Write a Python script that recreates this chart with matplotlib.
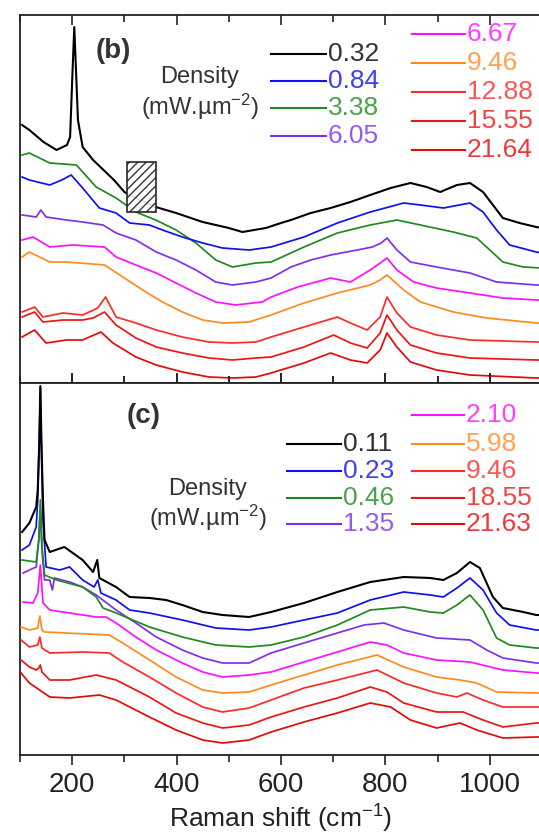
import matplotlib
matplotlib.use("Agg")
import matplotlib.pyplot as plt
from matplotlib.patches import Rectangle
from matplotlib.lines import Line2D
from matplotlib.ticker import MultipleLocator

plt.rcParams['font.family'] = ['Liberation Sans', 'DejaVu Sans']
plt.rcParams['mathtext.default'] = 'regular'

# ---------------- Panel (b) data (offset intensity, a.u.) ----------------
b_labels = ["0.32", "0.84", "3.38", "6.05", "6.67", "9.46", "12.88", "15.55", "21.64"]
b_colors = ["#000000", "#1010f0", "#1f8a1f", "#7f30ee", "#ff10ff", "#ff8a20", "#ff2a2a", "#ee1515", "#e40a0a"]

b1_x = [104,118,145,170,190,196,200,204,208,211,220,240,260,280,300,310,360,399,450,500,526,571,600,619,657,695,733,771,810,848,879,905,937,962,987,1006,1025,1057,1089,1100]
b1_y = [258,253,241,233,238,246,303,356,303,263,236,223,213,203,191,188,176,170,161,155,151,155,160,163,170,175,181,188,195,200,196,191,198,200,191,178,165,160,156,155]

b2_x = [104,118,157,180,198,220,252,284,310,348,373,411,450,488,539,581,644,708,771,835,867,911,962,987,1013,1038,1089,1100]
b2_y = [206,203,198,203,208,195,175,170,160,158,153,146,140,135,133,136,146,160,171,180,178,175,180,171,153,138,131,130]

b3_x = [104,118,157,208,246,284,322,360,399,437,475,507,552,581,644,708,771,822,867,930,975,1000,1025,1064,1100]
b3_y = [228,230,220,218,196,185,171,163,153,140,123,116,120,121,136,150,158,163,158,151,145,133,121,116,115]

b4_x = [104,131,140,150,189,220,259,284,322,361,399,437,475,507,552,581,619,657,695,746,775,792,803,822,848,898,962,1013,1089,1100]
b4_y = [168,166,173,166,163,161,158,150,143,131,123,113,101,98,101,105,116,123,128,133,136,140,145,133,121,116,110,101,98,98]

b5_x = [104,125,157,201,262,284,322,361,399,437,475,513,564,581,632,695,733,771,790,803,822,854,898,962,1025,1089,1100]
b5_y = [143,146,136,138,136,126,118,110,100,90,81,78,81,86,96,105,101,113,120,125,113,101,95,90,85,83,83]

b6_x = [104,118,157,189,262,297,335,373,411,450,488,539,581,644,708,771,790,803,835,867,930,994,1089,1100]
b6_y = [126,131,121,121,118,106,93,81,71,63,60,61,68,80,90,98,103,108,93,81,71,65,60,60]

b7_x = [104,128,144,182,220,249,264,284,322,361,411,462,507,552,581,644,708,733,765,790,803,822,848,898,962,1089,1100]
b7_y = [71,76,66,70,68,75,86,66,60,53,46,41,40,41,46,56,66,60,53,66,86,70,56,48,43,41,41]

b8_x = [104,128,144,182,220,240,262,284,322,361,411,462,507,552,581,644,701,733,765,790,803,822,848,898,962,1089,1100]
b8_y = [66,71,61,63,63,65,71,58,45,36,30,25,23,25,26,36,48,40,35,50,68,53,38,30,25,23,23]

b9_x = [104,128,150,189,220,255,278,322,361,411,462,507,552,581,644,695,733,765,790,803,822,848,898,962,1089,1100]
b9_y = [46,53,40,43,43,51,40,26,18,11,6,5,6,10,20,30,23,20,33,50,36,21,13,8,5,5]

b_x = [b1_x, b2_x, b3_x, b4_x, b5_x, b6_x, b7_x, b8_x, b9_x]
b_y = [b1_y, b2_y, b3_y, b4_y, b5_y, b6_y, b7_y, b8_y, b9_y]

# ---------------- Panel (c) data ----------------
c_labels = ["0.11", "0.23", "0.46", "1.35", "2.10", "5.98", "9.46", "18.55", "21.63"]
c_colors = ["#000000", "#1010f0", "#1f8a1f", "#7f30ee", "#ff10ff", "#ff8a20", "#ff2a2a", "#ee1515", "#e40a0a"]

c1_x = [104,118,131,134,137,139,141,144,147,157,185,220,240,248,252,284,310,348,380,411,450,488,539,581,644,708,771,835,886,911,937,962,981,1006,1025,1064,1089,1100]
c1_y = [223,232,248,265,315,369,315,255,215,203,208,195,183,195,177,168,158,157,155,150,143,140,138,143,152,163,173,178,177,175,182,193,187,158,147,143,140,140]

c2_x = [104,118,131,134,137,139,141,144,150,176,195,220,242,249,255,284,310,348,411,475,539,581,644,708,771,835,886,911,937,962,987,1013,1038,1089,1100]
c2_y = [205,210,228,255,315,367,305,235,188,185,188,175,168,175,162,155,145,142,135,127,125,128,135,142,155,163,160,158,167,177,165,142,130,125,125]

c3_x = [104,131,136,139,142,147,170,220,246,259,284,316,348,411,475,539,581,644,708,771,835,886,911,937,962,987,1013,1038,1089,1100]
c3_y = [195,193,215,255,210,180,175,168,158,147,142,135,128,118,110,108,110,118,130,145,148,143,142,150,160,145,117,110,107,107]

c4_x = [106,118,131,136,139,142,147,157,162,166,195,220,246,284,322,361,411,450,488,539,581,644,708,759,797,835,898,962,994,1025,1089,1100]
c4_y = [182,185,188,215,245,205,175,175,165,177,173,168,160,145,132,118,105,97,92,92,102,112,122,130,132,125,117,115,105,97,92,92]

c5_x = [106,125,134,139,144,157,195,246,265,284,322,361,411,450,488,539,581,644,708,771,803,835,898,962,1025,1089,1100]
c5_y = [153,152,162,190,152,145,142,138,138,132,118,105,92,83,78,80,83,93,103,113,110,102,95,93,85,82,82]

c6_x = [102,118,134,138,142,147,189,271,297,348,399,450,488,539,581,644,708,784,835,898,943,975,1013,1089,1100]
c6_y = [128,125,127,139,125,123,122,120,112,95,78,65,62,63,70,80,90,100,88,78,75,72,63,62,62]

c7_x = [102,118,134,138,142,157,220,271,297,348,399,450,488,539,581,644,708,784,835,898,937,956,987,1025,1089,1100]
c7_y = [115,108,110,118,107,102,103,102,93,78,62,48,43,47,55,67,75,85,72,62,58,62,55,48,48,48]

c8_x = [102,118,131,136,139,142,157,195,246,284,348,399,450,488,539,581,644,708,771,803,835,898,949,987,1025,1089,1100]
c8_y = [95,88,85,87,90,83,75,75,80,75,58,42,32,27,30,38,48,57,68,63,52,43,43,35,28,32,32]

c9_x = [102,118,157,195,252,284,348,399,450,488,539,581,644,708,771,810,848,898,943,975,1025,1089,1100]
c9_y = [82,72,58,57,60,55,38,25,15,12,15,23,33,42,52,48,35,27,32,25,17,18,18]

c_x = [c1_x, c2_x, c3_x, c4_x, c5_x, c6_x, c7_x, c8_x, c9_x]
c_y = [c1_y, c2_y, c3_y, c4_y, c5_y, c6_y, c7_y, c8_y, c9_y]

x_ticks_major = [200, 400, 600, 800, 1000]
x_label = "Raman shift (cm$^{-1}$)"
density_label = ["Density", "(mW.\u00b5m$^{-2}$)"]

# ---------------- Figure ----------------
W, H = 539, 836
fig = plt.figure(figsize=(W / 100, H / 100), dpi=100)

def fx(px):
    return px / W

def fy(py):
    return 1 - py / H

L, R = 20, 542
ax1 = fig.add_axes([fx(L), fy(383), (R - L) / W, 368 / H])
ax2 = fig.add_axes([fx(L), fy(755), (R - L) / W, 372 / H])

for ax, xs, ys, cols in [(ax1, b_x, b_y, b_colors), (ax2, c_x, c_y, c_colors)]:
    for i, (x, y, c) in enumerate(zip(xs, ys, cols)):
        ax.plot(x, y, color=c, lw=1.5 if i == 0 else 1.25, zorder=3 + (9 - i) * 0.01,
                solid_joinstyle='round')
    ax.set_xlim(100, 1100)
    ax.set_yticks([])
    ax.xaxis.set_major_locator(MultipleLocator(200))
    ax.xaxis.set_minor_locator(MultipleLocator(100))
    for s in ax.spines.values():
        s.set_linewidth(1.3)
        s.set_color("#222222")
    ax.spines['right'].set_visible(False)

ax1.set_ylim(0, 368)
ax2.set_ylim(0, 372)

ax1.tick_params(axis='x', which='both', top=True, bottom=True, direction='in',
                labelbottom=False, length=7, width=1.2, color="#222222")
ax2.tick_params(axis='x', which='both', top=True, bottom=True, direction='in',
                labelbottom=True, length=7, width=1.2, color="#222222",
                labelsize=20, labelcolor="#222222", pad=5)
ax2.tick_params(axis='x', which='both', bottom=True, direction='out')
ax2.tick_params(axis='x', which='minor', length=5)
ax1.tick_params(axis='x', which='minor', length=5)
ax2.set_xticks(x_ticks_major)
ax2.set_xlabel(x_label, fontsize=19, color="#222222", labelpad=4)

# hatched box on panel (b)
ax1.add_patch(Rectangle((305, 171), 55, 50, facecolor='white', edgecolor='#222222',
                        hatch='////', lw=1.3, zorder=10, alpha=0.9))

# panel letters and density labels
fig.text(fx(113), fy(51), "(b)", fontsize=20, fontweight='bold', color="#333333",
         ha='center', va='center')
fig.text(fx(144), fy(416), "(c)", fontsize=20, fontweight='bold', color="#333333",
         ha='center', va='center')
for cx, ys in [(200, (77, 107)), (208, (489, 518))]:
    fig.text(fx(cx), fy(ys[0]), density_label[0], fontsize=17, color="#333333",
             ha='center', va='center')
    fig.text(fx(cx), fy(ys[1]), density_label[1], fontsize=17, color="#333333",
             ha='center', va='center')

def legend_entry(x0, x1, y, color, text):
    fig.add_artist(Line2D([fx(x0), fx(x1)], [fy(y), fy(y)], color=color, lw=1.5,
                          transform=fig.transFigure))
    fig.text(fx(x1 + 2), fy(y), text, fontsize=19, color=color, alpha=0.8,
             ha='left', va='center')

b_rows = [54, 81, 108, 136, 34, 63, 92, 121, 150]
c_rows = [444, 471, 498, 524, 415, 444, 471, 498, 524]
for i in range(9):
    if i < 4:
        legend_entry(271, 326, b_rows[i], b_colors[i], b_labels[i])
        legend_entry(287, 341, c_rows[i], c_colors[i], c_labels[i])
    else:
        legend_entry(412, 465, b_rows[i], b_colors[i], b_labels[i])
        legend_entry(412, 464, c_rows[i], c_colors[i], c_labels[i])

fig.savefig("out.png", dpi=100)
